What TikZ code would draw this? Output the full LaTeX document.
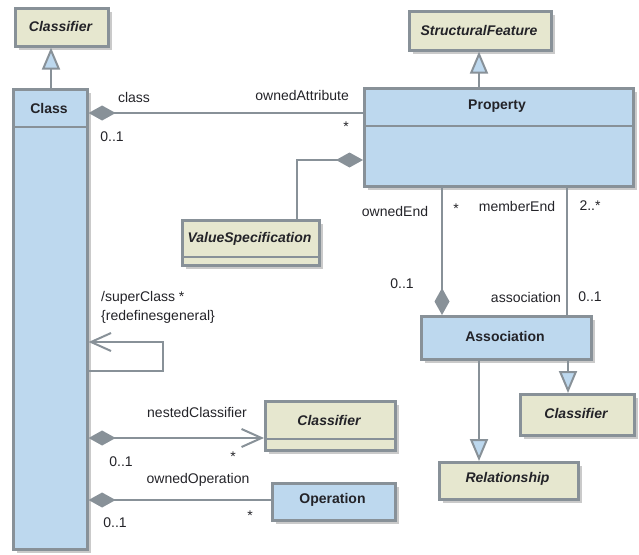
\documentclass[tikz,border=0pt]{standalone}
\usepackage{fontspec}
\setmainfont{Liberation Sans}
\usetikzlibrary{shadows,arrows.meta,calc}
\definecolor{boxblue}{RGB}{189,216,238}
\definecolor{boxyellow}{RGB}{230,231,207}
\definecolor{edge}{RGB}{136,145,152}
\definecolor{shade}{RGB}{202,202,202}
\definecolor{txt}{RGB}{35,35,40}
\begin{document}
\begin{tikzpicture}[x=1pt,y=-1pt,
  box/.style={draw=edge, line width=2.6pt, inner sep=0pt, anchor=north west,
    drop shadow={shadow xshift=4pt, shadow yshift=-4pt, fill=shade, opacity=1}},
  cls/.style={box, fill=boxblue},
  abs/.style={box, fill=boxyellow},
  cname/.style={font=\bfseries\fontsize{14}{16}\selectfont, text=txt, inner sep=0pt},
  aname/.style={font=\bfseries\itshape\fontsize{14}{16}\selectfont, text=txt, inner sep=0pt},
  lbl/.style={font=\fontsize{14}{16}\selectfont, text=txt, inner sep=0pt},
  sep/.style={draw=edge, line width=2.6pt},
  conn/.style={draw=edge, line width=2pt},
  comp/.style={conn, {Diamond[length=27pt,width=15pt,fill=edge,color=edge]}-},
  gen/.style={conn, -{Triangle[length=22pt,width=18pt,fill=boxblue,color=edge]}},
  nav/.style={conn, -{Straight Barb[length=20pt,width=18pt,color=edge]}},
  compnav/.style={conn, {Diamond[length=27pt,width=15pt,fill=edge,color=edge]}-{Straight Barb[length=20pt,width=18pt,color=edge]}},
]
\useasboundingbox (0,0) rectangle (639,554);

% boxes
\node[abs, minimum width=93pt, minimum height=38pt] (clsftop) at (14,7) {};
\node[aname] (clsftoptext) at (60.5,26) {Classifier};

\node[cls, minimum width=74pt, minimum height=460pt] (classbox) at (12,88) {};
\draw[sep] (classbox.west |- 0,127) -- (classbox.east |- 0,127);
\node[cname] (classtext) at (49,108) {Class};

\node[abs, minimum width=142pt, minimum height=39pt] (sfeat) at (408,10) {};
\node[aname] (sfeattext) at (479,30) {StructuralFeature};

\node[cls, minimum width=269pt, minimum height=98pt] (prop) at (363,87) {};
\draw[sep] (prop.west |- 0,126) -- (prop.east |- 0,126);
\node[cname] (proptext) at (497,106) {Property};

\node[abs, minimum width=137pt, minimum height=45pt] (vspec) at (181,219) {};
\draw[sep] (vspec.west |- 0,257) -- (vspec.east |- 0,257);
\node[aname] (vspectext) at (249.5,239) {ValueSpecification};

\node[cls, minimum width=170pt, minimum height=43pt] (assoc) at (420,315) {};
\node[cname] (assoctext) at (505,336) {Association};

\node[abs, minimum width=114pt, minimum height=41pt] (clsfright) at (519,393) {};
\node[aname] (clsfrighttext) at (576,413) {Classifier};

\node[abs, minimum width=139pt, minimum height=37pt] (relat) at (438,461) {};
\node[aname] (relattext) at (507.5,479) {Relationship};

\node[abs, minimum width=130pt, minimum height=49pt] (clsfnest) at (264,400) {};
\draw[sep] (clsfnest.west |- 0,439) -- (clsfnest.east |- 0,439);
\node[aname] (clsfnesttext) at (329,420) {Classifier};

\node[cls, minimum width=123pt, minimum height=37pt] (oper) at (271,482) {};
\node[cname] (opertext) at (332.5,500) {Operation};

% connectors
\draw[gen] (classbox.north -| 51,0) -- (clsftop.south -| 51,0);
\draw[gen] (prop.north -| 479,0) -- (sfeat.south -| 479,0);
\draw[comp] (classbox.east |- 0,113) -- (prop.west |- 0,113);
\draw[comp] (prop.west |- 0,160) -- (297,160) -- (vspec.north -| 297,0);
\draw[comp] (assoc.north -| 442,0) -- (prop.south -| 442,0);
\draw[conn] (prop.south -| 567,0) -- (assoc.north -| 567,0);
\draw[gen] (assoc.south -| 568,0) -- (clsfright.north -| 568,0);
\draw[gen] (assoc.south -| 479,0) -- (relat.north -| 479,0);
\draw[nav] (classbox.east |- 0,371) -- (163,371) -- (163,342) -- (classbox.east |- 0,342);
\draw[compnav] (classbox.east |- 0,438) -- (clsfnest.west |- 0,438);
\draw[comp] (classbox.east |- 0,500) -- (oper.west |- 0,500);

% labels
\node[lbl] (l1) at (134,97) {class};
\node[lbl] (l2) at (112,137) {0..1};
\node[lbl, anchor=east] (l3) at (349,95) {ownedAttribute};
\node[lbl] (l4) at (346,127) {*};
\node[lbl] (l5) at (395,211) {ownedEnd};
\node[lbl] (l6) at (456,209) {*};
\node[lbl] (l7) at (517,206) {memberEnd};
\node[lbl] (l8) at (590,206) {2..*};
\node[lbl] (l9) at (402,284) {0..1};
\node[lbl] (l10) at (526,297) {association};
\node[lbl] (l11) at (590,297) {0..1};
\node[lbl, anchor=west] (l12) at (101,298) {/superClass *};
\node[lbl, anchor=west] (l13) at (101,317) {\{redefinesgeneral\}};
\node[lbl] (l14) at (197,412) {nestedClassifier};
\node[lbl] (l15) at (233,457) {*};
\node[lbl] (l16) at (121,462) {0..1};
\node[lbl] (l17) at (198,480) {ownedOperation};
\node[lbl] (l18) at (250,516) {*};
\node[lbl] (l19) at (115,523) {0..1};
\end{tikzpicture}
\end{document}
